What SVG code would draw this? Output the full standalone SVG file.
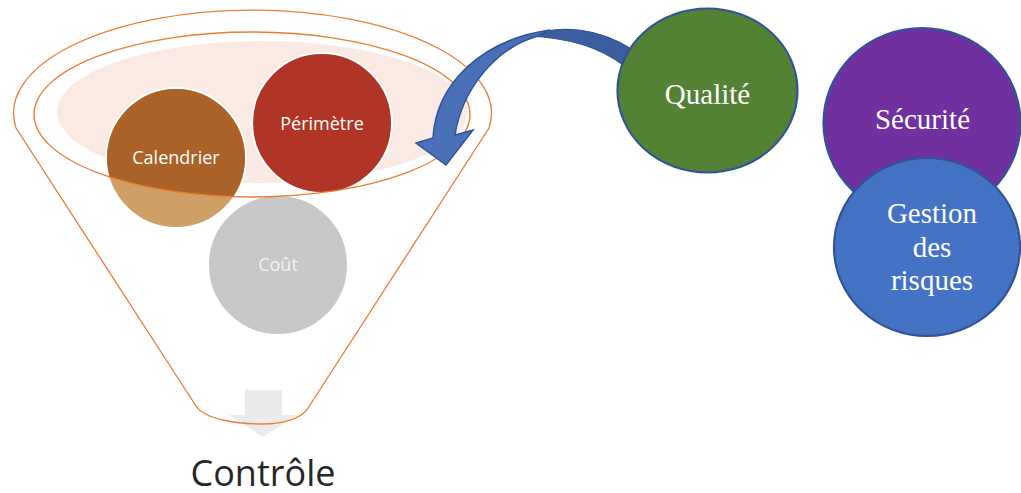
<svg xmlns="http://www.w3.org/2000/svg" width="1021" height="493" viewBox="0 0 1021 493">
  <style>
    .funnel-line { fill: none; stroke: #ED7D31; stroke-width: 1.3; }
    .ball { stroke: #FFFFFF; stroke-width: 2; }
    .ball-label { font-family: "Open Sans", "Liberation Sans", sans-serif; font-size: 18px; fill: #FFFFFF; text-anchor: middle; }
    .bubble { stroke: #2F5597; stroke-width: 2.2; }
    .bubble-label { font-family: "Liberation Serif", "Times New Roman", serif; font-size: 29px; fill: #FFFFFF; text-anchor: middle; }
  </style>
  <defs>
    <clipPath id="inner-rim">
      <ellipse cx="252" cy="114.5" rx="218" ry="82.5"/>
    </clipPath>
  </defs>

  <!-- Funnel body -->
  <g id="funnel">
    <ellipse cx="262" cy="112" rx="205" ry="71" fill="#FBEAE3"/>
  </g>

  <!-- Items inside the funnel -->
  <g id="node-calendrier">
    <circle class="ball" cx="176" cy="158" r="70" fill="#CFA066"/>
    <circle cx="176" cy="158" r="69" fill="#AA6228" clip-path="url(#inner-rim)"/>
    <text class="ball-label" x="176" y="164">Calendrier</text>
  </g>
  <g id="node-perimetre">
    <circle class="ball" cx="322" cy="123" r="70" fill="#B03526"/>
    <text class="ball-label" x="322" y="130">Périmètre</text>
  </g>
  <g id="node-cout">
    <circle class="ball" cx="278" cy="265" r="70" fill="#C8C8C8"/>
    <text class="ball-label" x="278" y="271" style="fill:#F2F2F2">Coût</text>
  </g>

  <!-- Output of the funnel -->
  <g id="node-controle">
    <path d="M245,390 H282 V415 H296 L263,437 L229,415 H245 Z" fill="#EBEBEB"/>
    <text x="263" y="486" font-family="'Open Sans', 'Liberation Sans', sans-serif" font-size="36" fill="#262626" text-anchor="middle">Contrôle</text>
  </g>

  <!-- Funnel outlines -->
  <g id="funnel-outline">
    <ellipse class="funnel-line" cx="252" cy="114.5" rx="218" ry="82.5"/>
    <path class="funnel-line" d="M16,128 A239,103 0 1 1 489,128 L310,405 C304,418 285,424 262,424 C240,424 205,420 196,406 Z"/>
  </g>

  <!-- Connectors -->
  <g id="connectors">
    <path d="M528,36 C560,24 600,28 633,50 L626,67 C600,47 570,38 528,36 Z" fill="#3A5E9E" stroke="#2F5597" stroke-width="1.2"/>
    <path d="M433,138 C436,85 480,40 550,30 L538,36 C495,48 462,90 455,135 L473,130 L446,165 L416,143 Z" fill="#4A70B8" stroke="#2F5597" stroke-width="1.5" stroke-linejoin="miter"/>
  </g>

  <!-- Side topics -->
  <g id="node-qualite">
    <ellipse class="bubble" cx="707.5" cy="90.5" rx="90" ry="82" fill="#548235"/>
    <text class="bubble-label" x="707.5" y="104">Qualité</text>
  </g>
  <g id="node-securite">
    <ellipse class="bubble" cx="922" cy="123" rx="98.5" ry="95" fill="#7030A0"/>
    <text class="bubble-label" x="922.5" y="129">Sécurité</text>
  </g>
  <g id="node-gestion">
    <ellipse class="bubble" cx="927" cy="247" rx="93" ry="89" fill="#4472C4"/>
    <text class="bubble-label" x="932" y="223">Gestion</text>
    <text class="bubble-label" x="932" y="257">des</text>
    <text class="bubble-label" x="932" y="290">risques</text>
  </g>
</svg>
